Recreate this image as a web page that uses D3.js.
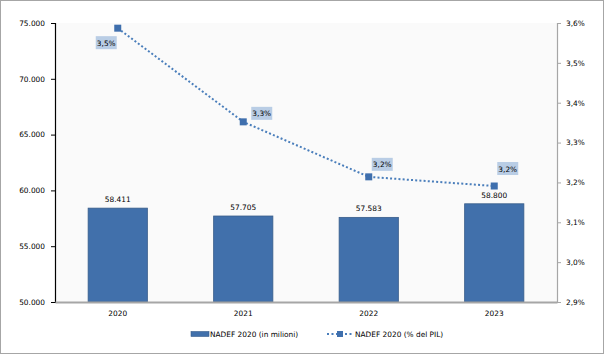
<!DOCTYPE html>
<html><head><meta charset="utf-8">
<script src="https://cdn.jsdelivr.net/npm/d3@7"></script>
<style>body{margin:0;background:#fff}svg{display:block}text{font-family:"DejaVu Sans",sans-serif;font-size:7.4px;fill:#000}</style>
</head><body><svg id="c" width="606" height="356"></svg>
<script>
const years = ["2020","2021","2022","2023"];
const barValues = [58411, 57705, 57583, 58800];
const barLabels = ["58.411","57.705","57.583","58.800"];
const pctValues = [3.587, 3.352, 3.214, 3.191];
const pctLabels = ["3,5%","3,3%","3,2%","3,2%"];
const leftTicks = [50000,55000,60000,65000,70000,75000];
const rightTicks = [2.9,3.0,3.1,3.2,3.3,3.4,3.5,3.6];
const seriesNames = ["NADEF 2020 (in milioni)","NADEF 2020 (% del PIL)"];

const svg = d3.select("#c");
const L=55, R=557, T=23, B=302;
svg.append("rect").attr("x",0.5).attr("y",0.5).attr("width",603).attr("height",353).attr("fill","#fff").attr("stroke","#a6a6a6");
svg.append("rect").attr("x",L).attr("y",T).attr("width",R-L).attr("height",B-T).attr("fill","#fafafa");

const x = d3.scaleBand().domain(years).range([L,R]).paddingInner(0.52).paddingOuter(0.26);
const y = d3.scaleLinear().domain([50000,75000]).range([B,T]);
const y2 = d3.scaleLinear().domain([2.9,3.6]).range([B,T]);
const fmtL = d => d3.format(",")(d).replace(/,/g,".");
const fmtR = d => d3.format(".1f")(d).replace(".",",")+"%";

// bars
svg.append("g").selectAll("rect").data(years).join("rect")
  .attr("x",d=>x(d)+0.5).attr("y",(d,i)=>y(barValues[i])).attr("width",x.bandwidth()-1)
  .attr("height",(d,i)=>B-y(barValues[i])).attr("fill","#4170ab").attr("stroke","#385d8a").attr("stroke-width",0.8);
svg.append("g").selectAll("text").data(years).join("text")
  .attr("x",d=>x(d)+x.bandwidth()/2).attr("y",(d,i)=>y(barValues[i])-6)
  .attr("text-anchor","middle").text((d,i)=>barLabels[i]);

// axes
const gl = svg.append("g").attr("transform",`translate(${L},0)`).call(d3.axisLeft(y).tickValues(leftTicks).tickFormat(fmtL).tickSize(4).tickPadding(6));
gl.select(".domain").attr("stroke","#000").attr("stroke-width",1.2);
gl.selectAll(".tick line").attr("stroke","#000");
const gr = svg.append("g").attr("transform",`translate(${R},0)`).call(d3.axisRight(y2).tickValues(rightTicks).tickFormat(fmtR).tickSize(4).tickPadding(5));
gr.select(".domain").attr("stroke","#a6a6a6").attr("stroke-width",1.2);
gr.selectAll(".tick line").attr("stroke","#a6a6a6");
const gb = svg.append("g").attr("transform",`translate(0,${B})`).call(d3.axisBottom(x).tickSize(0).tickPadding(9));
gb.select(".domain").attr("stroke","#a6a6a6").attr("stroke-width",2);
[gl,gr,gb].forEach(g=>g.attr("font-family",null).attr("font-size",null));

// line
const pts = years.map((d,i)=>[x(d)+x.bandwidth()/2, y2(pctValues[i])]);
svg.append("path").attr("d",d3.line()(pts)).attr("fill","none").attr("stroke","#4a7ebb")
  .attr("stroke-width",2).attr("stroke-dasharray","2,2.2");
svg.append("g").selectAll("rect").data(pts).join("rect")
  .attr("x",p=>p[0]-3.5).attr("y",p=>p[1]-3.5).attr("width",7).attr("height",7).attr("fill","#3f6fad");

// data labels with boxes (offsets relative to point)
const off = [[-22,8],[8,-15],[3,-19],[3,-24]];
const lg = svg.append("g");
pts.forEach((p,i)=>{
  const bx=p[0]+off[i][0], by=p[1]+off[i][1];
  lg.append("rect").attr("x",bx).attr("y",by).attr("width",21).attr("height",13).attr("fill","#b9cde5");
  lg.append("text").attr("x",bx+10.5).attr("y",by+9.5).attr("text-anchor","middle").text(pctLabels[i]);
});

// legend
const legY = 334;
svg.append("rect").attr("x",191).attr("y",legY-2.5).attr("width",18).attr("height",5).attr("fill","#4170ab").attr("stroke","#385d8a").attr("stroke-width",0.6);
svg.append("text").attr("x",210).attr("y",legY+3).text(seriesNames[0]);
svg.append("line").attr("x1",327).attr("x2",353).attr("y1",legY).attr("y2",legY).attr("stroke","#4a7ebb").attr("stroke-width",2).attr("stroke-dasharray","2,2.5");
svg.append("rect").attr("x",337).attr("y",legY-3).attr("width",6).attr("height",6).attr("fill","#3f6fad");
svg.append("text").attr("x",355).attr("y",legY+3).text(seriesNames[1]);
</script></body></html>
